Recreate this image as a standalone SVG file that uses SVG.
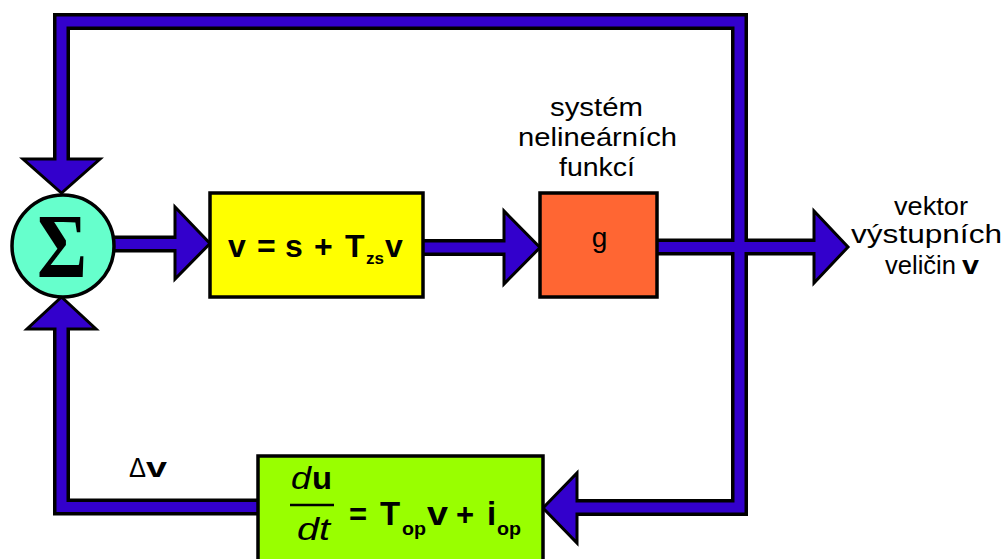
<svg xmlns="http://www.w3.org/2000/svg" width="1007" height="559" viewBox="0 0 1007 559">
  <style>
    .pipe-edge { fill: none; stroke: #000; stroke-width: 17; stroke-linejoin: miter; }
    .pipe-core { fill: none; stroke: #3300cc; stroke-width: 10; stroke-linejoin: miter; }
    .head { fill: #3300cc; stroke: #000; stroke-width: 3; stroke-linejoin: miter; }
    .box { stroke: #000; stroke-width: 3.5; }
    .lbl { font-family: "Liberation Sans", Arial, sans-serif; fill: #000; }
    .eq { font-family: "Liberation Sans", Arial, sans-serif; font-weight: bold; fill: #000; }
  </style>

  <rect width="1007" height="559" fill="#fff"/>

  <!-- connectors: black outlines first, then arrowheads, then blue cores -->
  <g id="connectors">
    <g id="edges-outline">
      <path class="pipe-edge" d="M61.5,162 V21.5 H739.5 V507.5 H574"/>
      <path class="pipe-edge" d="M258,507 H61.5 V326"/>
      <path class="pipe-edge" d="M100,244 H178"/>
      <path class="pipe-edge" d="M423,247.5 H507"/>
      <path class="pipe-edge" d="M657,247 H817"/>
    </g>
    <g id="arrowheads">
      <polygon class="head" points="23,159 100,159 61.5,193"/>
      <polygon class="head" points="27,329 96,329 61.5,297"/>
      <polygon class="head" points="175,207 175,279 210,243.5"/>
      <polygon class="head" points="504,211 504,284 540,247.5"/>
      <polygon class="head" points="814,211 814,283 848,247"/>
      <polygon class="head" points="577,473 577,543 543,508"/>
    </g>
    <g id="edges-core">
      <path class="pipe-core" d="M61.5,162 V21.5 H739.5 V507.5 H574"/>
      <path class="pipe-core" d="M258,507 H61.5 V326"/>
      <path class="pipe-core" d="M100,244 H178"/>
      <path class="pipe-core" d="M423,247.5 H507"/>
      <path class="pipe-core" d="M657,247 H817"/>
    </g>
  </g>

  <!-- summing junction -->
  <g id="sum">
    <circle cx="63" cy="246" r="51" fill="#66ffcc" stroke="#000" stroke-width="3.5"/>
    <text x="62" y="277" text-anchor="middle" font-family="'Liberation Serif', 'Times New Roman', serif" font-weight="bold" font-size="92" textLength="50" lengthAdjust="spacingAndGlyphs">Σ</text>
  </g>

  <!-- state equation block -->
  <g id="state">
    <rect class="box" x="210" y="193" width="213" height="104" fill="#ffff00"/>
    <text class="eq" font-size="32" y="257"><tspan x="228">v</tspan><tspan x="257">=</tspan><tspan x="285">s</tspan><tspan x="314">+</tspan><tspan x="345">T</tspan></text>
    <text class="eq" font-size="17" x="366" y="264">zs</text>
    <text class="eq" font-size="32" x="385" y="257">v</text>
  </g>

  <!-- nonlinear function block -->
  <g id="nonlinear">
    <rect class="box" x="540" y="193" width="117" height="104" fill="#ff6633"/>
    <text class="lbl" x="599.5" y="247" font-size="28" text-anchor="middle">g</text>
    <text class="lbl" x="550" y="116" font-size="26" textLength="93" lengthAdjust="spacingAndGlyphs">systém</text>
    <text class="lbl" x="518" y="146" font-size="26" textLength="159" lengthAdjust="spacingAndGlyphs">nelineárních</text>
    <text class="lbl" x="559" y="176" font-size="26" textLength="76" lengthAdjust="spacingAndGlyphs">funkcí</text>
  </g>

  <!-- output label -->
  <g id="output">
    <text class="lbl" x="894" y="215" font-size="26" textLength="74" lengthAdjust="spacingAndGlyphs">vektor</text>
    <text class="lbl" x="851" y="243" font-size="26" textLength="151" lengthAdjust="spacingAndGlyphs">výstupních</text>
    <text class="lbl" x="885" y="274" font-size="26" textLength="71" lengthAdjust="spacingAndGlyphs">veličin</text>
    <text class="eq" x="962" y="274" font-size="26" textLength="17" lengthAdjust="spacingAndGlyphs">v</text>
  </g>

  <!-- operator block -->
  <g id="operator">
    <rect class="box" x="258" y="456" width="285" height="110" fill="#99ff00"/>
    <text class="lbl" x="291" y="489" font-size="32" font-style="italic" textLength="20" lengthAdjust="spacingAndGlyphs">d</text>
    <text class="eq" x="312" y="489" font-size="32" textLength="20" lengthAdjust="spacingAndGlyphs">u</text>
    <line x1="290" y1="505" x2="334" y2="505" stroke="#000" stroke-width="2.5"/>
    <text class="lbl" x="297" y="540" font-size="32" font-style="italic" textLength="33" lengthAdjust="spacingAndGlyphs">dt</text>
    <text class="eq" x="349" y="525" font-size="31">=</text>
    <text class="eq" x="380" y="525" font-size="33">T</text>
    <text class="eq" x="402" y="535" font-size="18" textLength="24" lengthAdjust="spacingAndGlyphs">op</text>
    <text class="eq" x="427" y="525" font-size="33" textLength="21" lengthAdjust="spacingAndGlyphs">v</text>
    <text class="eq" x="456" y="525" font-size="31">+</text>
    <text class="eq" x="487" y="525" font-size="33">i</text>
    <text class="eq" x="497" y="535" font-size="18" textLength="24" lengthAdjust="spacingAndGlyphs">op</text>
  </g>

  <!-- feedback increment label -->
  <g id="delta">
    <text class="lbl" x="129" y="477" font-size="27" textLength="17" lengthAdjust="spacingAndGlyphs">Δ</text>
    <text class="eq" x="146" y="477" font-size="27" textLength="21" lengthAdjust="spacingAndGlyphs">v</text>
  </g>
</svg>
